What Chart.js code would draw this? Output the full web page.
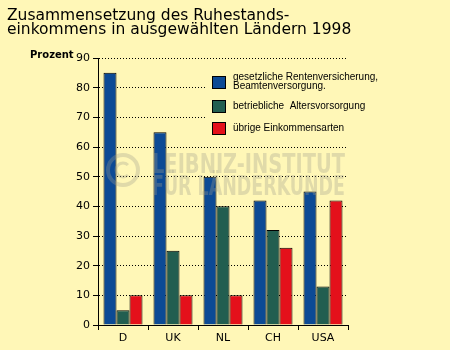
<!DOCTYPE html>
<html>
<head>
<meta charset="utf-8">
<script src="https://cdn.jsdelivr.net/npm/chart.js@4/dist/chart.umd.min.js"></script>
<style>
  html, body { margin: 0; padding: 0; background: #FFF7B7; }
  #wrap { position: relative; width: 450px; height: 350px; }
  h1 {
    position: absolute; left: 7px; top: 8px; margin: 0;
    font: 15.5px "DejaVu Sans", Verdana, sans-serif; line-height: 14px;
    color: #000; font-weight: normal; white-space: nowrap;
  }
  canvas { position: absolute; left: 0; top: 0; }
</style>
</head>
<body>
<div id="wrap">
  <canvas id="chart" width="450" height="350"></canvas>
  <h1>Zusammensetzung des Ruhestands-<br>einkommens in ausgewählten Ländern 1998</h1>
</div>
<script>
// Daten
const categories  = ["D", "UK", "NL", "CH", "USA"];
const gesetzlich  = [85, 65, 50, 42, 45];
const betrieblich = [5, 25, 40, 32, 13];
const uebrige     = [10, 10, 10, 26, 42];
const seriesNames = [
  ["gesetzliche Rentenversicherung,", "Beamtenversorgung."],
  ["betriebliche  Altersvorsorgung"],
  ["übrige Einkommensarten"]
];
const yTicks = [0, 10, 20, 30, 40, 50, 60, 70, 80, 90];

const COLORS = ["#0C4A95", "#225E50", "#E4101B"];
const BG = "#FFF7B7";

// Legende + "Prozent" + Wasserzeichen
const decoPlugin = {
  id: "deco",
  beforeDatasetsDraw(chart) {
    const ctx = chart.ctx;
    ctx.save();
    // legend box covers the grid lines
    ctx.fillStyle = BG;
    ctx.fillRect(205, 63, 143, 78);
    const rowsY = [76, 100, 122];
    chart.data.datasets.forEach((ds, i) => {
      const y = rowsY[i];
      ctx.fillStyle = ds.backgroundColor;
      ctx.fillRect(212.5, y + 0.5, 13, 12);
      ctx.strokeStyle = "#000";
      ctx.lineWidth = 1;
      ctx.strokeRect(212.5, y + 0.5, 13, 12);
      ctx.fillStyle = "#000";
      ctx.font = "10px 'Liberation Sans', Arial, sans-serif";
      ctx.textBaseline = "middle";
      const lines = seriesNames[i];
      lines.forEach((l, j) => {
        const ty = lines.length > 1 ? y + 1 + j * 9 : y + 6;
        ctx.fillText(l, 233, ty);
      });
    });
    // axis caption
    ctx.font = "bold 10px 'DejaVu Sans', Verdana, sans-serif";
    ctx.textBaseline = "middle";
    ctx.fillText("Prozent", 30, 55);
    ctx.restore();
  },
  afterDatasetsDraw(chart) {
    const ctx = chart.ctx;
    ctx.save();
    ctx.fillStyle = "rgba(160,160,140,0.32)";
    ctx.strokeStyle = "rgba(160,160,140,0.32)";
    ctx.font = "bold 26px 'Liberation Sans Narrow', 'DejaVu Sans Condensed', sans-serif";
    ctx.textBaseline = "alphabetic";
    const fit = (txt, x, y, w) => {
      const m = ctx.measureText(txt).width;
      ctx.save();
      ctx.translate(x, y);
      ctx.scale(w / m, 1);
      ctx.fillText(txt, 0, 0);
      ctx.restore();
    };
    fit("LEIBNIZ-INSTITUT", 152, 173, 193);
    fit("FÜR LÄNDERKUNDE", 152, 195, 193);
    // circle logo
    ctx.lineWidth = 4;
    ctx.beginPath();
    ctx.arc(123, 170, 15, 0, Math.PI * 2);
    ctx.stroke();
    ctx.lineWidth = 3;
    ctx.beginPath();
    ctx.arc(123, 170, 7, 0.25 * Math.PI, 1.75 * Math.PI);
    ctx.stroke();
    ctx.restore();
  }
};

new Chart(document.getElementById("chart"), {
  type: "bar",
  data: {
    labels: categories,
    datasets: [
      { label: seriesNames[0].join(" "), data: gesetzlich,  backgroundColor: COLORS[0] },
      { label: seriesNames[1].join(" "), data: betrieblich, backgroundColor: COLORS[1] },
      { label: seriesNames[2].join(" "), data: uebrige,     backgroundColor: COLORS[2] }
    ].map(d => Object.assign(d, {
      borderColor: "#000", borderWidth: 1,
      categoryPercentage: 0.78, barPercentage: 1
    }))
  },
  options: {
    responsive: false,
    animation: false,
    layout: { padding: { left: 38, top: 58, right: 102, bottom: 0 } },
    plugins: { legend: { display: false }, tooltip: { enabled: false } },
    scales: {
      x: {
        afterFit: s => { s.height = 25; },
        grid: { display: true, drawOnChartArea: false, offset: true, tickLength: 5, color: "#000" },
        border: { display: true, color: "#000", width: 1 },
        ticks: { color: "#000", padding: 2, font: { family: "'DejaVu Sans', Verdana, sans-serif", size: 11 } }
      },
      y: {
        min: 0, max: 90,
        afterFit: s => { s.width = 60; },
        afterBuildTicks: s => { s.ticks = yTicks.map(v => ({ value: v })); },
        grid: { color: "#000", lineWidth: 1, tickLength: 5, tickColor: "#000" },
        border: { display: true, color: "#000", width: 1, dash: [1, 2] },
        ticks: { color: "#000", padding: 3, font: { family: "'DejaVu Sans', Verdana, sans-serif", size: 11 } }
      }
    }
  },
  plugins: [decoPlugin]
});
</script>
</body>
</html>
